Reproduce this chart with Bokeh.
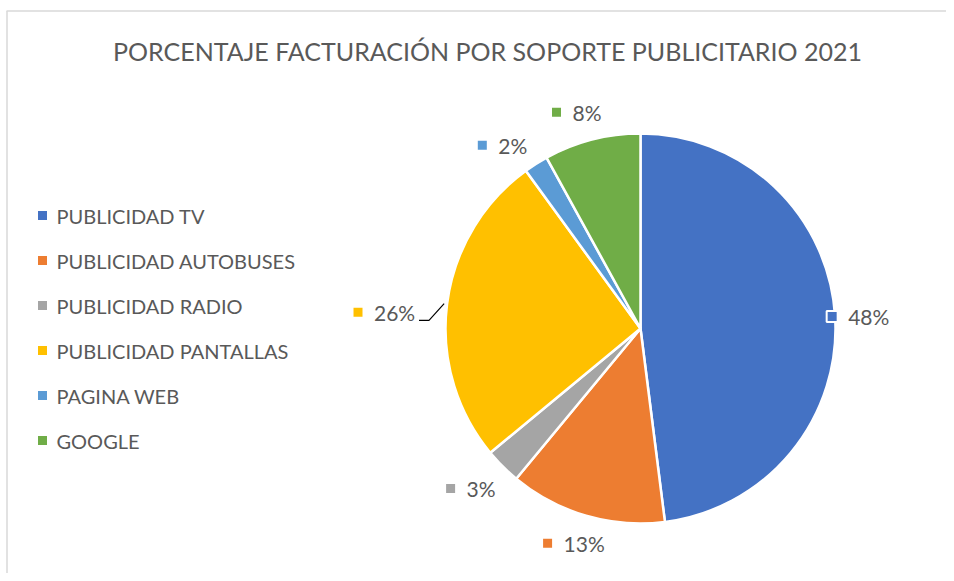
import numpy as np
from bokeh.plotting import figure
from bokeh.models import Range1d, ColumnDataSource
from bokeh.core.properties import value
from bokeh.embed import file_html
from bokeh.resources import INLINE

# ---- data ----
categories = ["PUBLICIDAD TV", "PUBLICIDAD AUTOBUSES", "PUBLICIDAD RADIO",
              "PUBLICIDAD PANTALLAS", "PAGINA WEB", "GOOGLE"]
percentages = [48, 13, 3, 26, 2, 8]
colors = ["#4472C4", "#ED7D31", "#A5A5A5", "#FFC000", "#5B9BD5", "#70AD47"]
title_text = "PORCENTAJE FACTURACIÓN POR SOPORTE PUBLICITARIO 2021"

# ---- layout / style ----
W, H = 946, 573
cx, cy, R = 640, H - 328, 195
label_r = [218, 225, 229, 257, 226, 224]
label_dang = [-0.45, -1.1, -0.7, 3.6, 3.4, 0.6]   # degrees
FONT = "Lato"
TXT = "#595959"

p = figure(width=W, height=H, output_backend="svg", toolbar_location=None,
           x_range=Range1d(0, W), y_range=Range1d(0, H), min_border=0,
           outline_line_color=None)
p.axis.visible = False
p.grid.visible = False
p.background_fill_color = "white"
p.border_fill_color = "white"

# chart frame (light grey)
p.segment(x0=[6, 6.5], y0=[H - 10.5, H - 10.5], x1=[W, 6.5], y1=[H - 10.5, 0],
          line_color="#D9D9D9", line_width=1.5)

# pie
vals = np.array(percentages, dtype=float)
frac = vals / vals.sum()
cum = np.cumsum(frac)
prev = np.concatenate([[0], cum[:-1]])
start = np.pi / 2 - 2 * np.pi * cum
end = np.pi / 2 - 2 * np.pi * prev
src = ColumnDataSource(dict(start=start, end=end, color=colors))
p.wedge(x=cx, y=cy, radius=R, start_angle="start", end_angle="end",
        fill_color="color", line_color="white", line_width=2.5, source=src)

# data labels
mid = (start + end) / 2
lang = mid + np.radians(label_dang)
ax = cx + np.array(label_r) * np.cos(lang)
ay = cy + np.array(label_r) * np.sin(lang)
labels = [f"{v}%" for v in percentages]
p.scatter(x=list(ax - 26), y=list(ay), marker="square", size=11,
          fill_color=colors, line_color="white", line_width=2)
p.text(x=list(ax - 10), y=list(ay), text=labels, text_font=value(FONT),
       text_font_size="21px", text_color=TXT, text_align="left",
       text_baseline="middle")

# leader line for the 26% slice
i = 3
ex, ey = cx + R * 1.015 * np.cos(mid[i]), cy + R * 1.015 * np.sin(mid[i])
lx, ly = ax[i] + 35, ay[i] - 8
p.line(x=[lx, lx + 10, ex], y=[ly, ly, ey], line_color="black", line_width=1.2)

# title
p.text(x=[487], y=[H - 50], text=[title_text], text_font=value(FONT),
       text_font_size="25px", text_color=TXT, text_align="center",
       text_baseline="middle")

# legend
ly0 = H - 215
for k, (c, col) in enumerate(zip(categories, colors)):
    yy = ly0 - k * 45
    p.scatter(x=[42], y=[yy], marker="square", size=9, fill_color=col, line_color=None)
    p.text(x=[56], y=[yy], text=[c], text_font=value(FONT), text_font_size="20px",
           text_color=TXT, text_align="left", text_baseline="middle")

open("out.html", "w").write(file_html(p, INLINE))
